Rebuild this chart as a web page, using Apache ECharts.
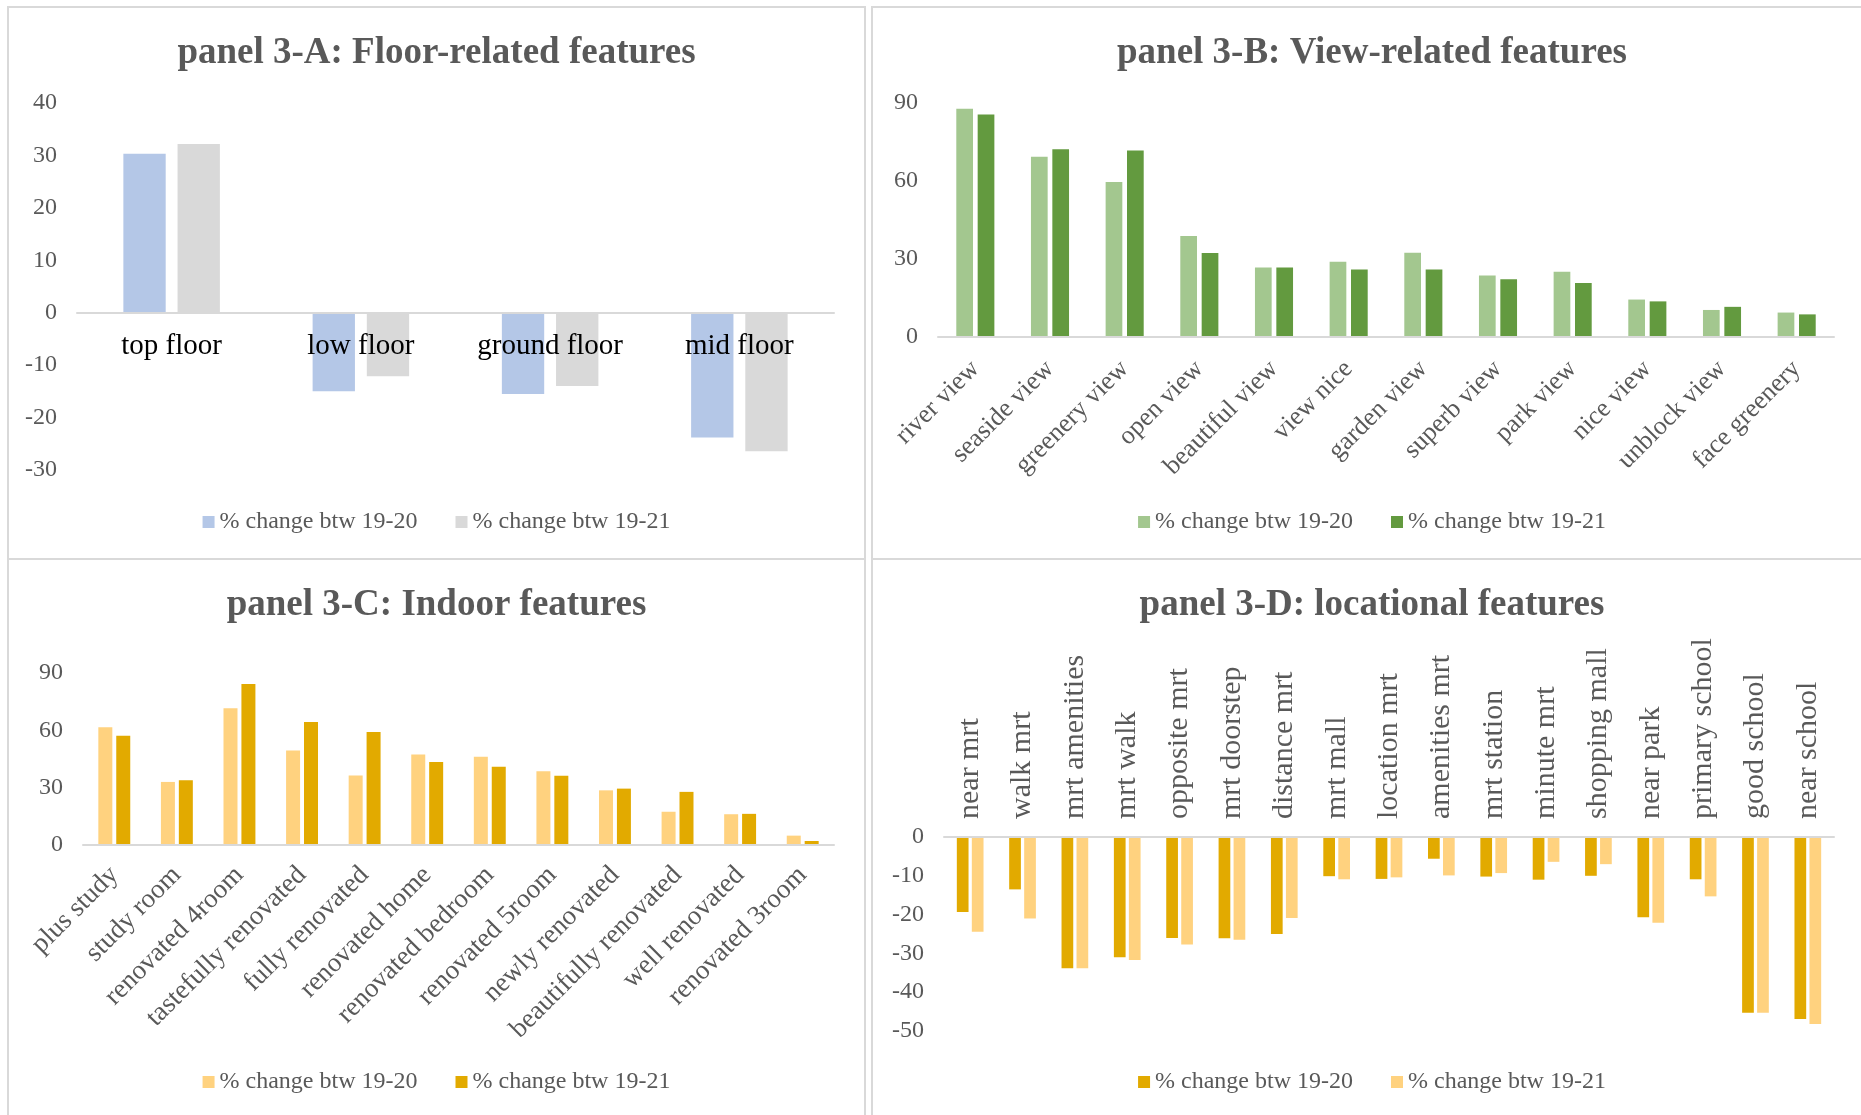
<!DOCTYPE html>
<html>
<head>
<meta charset="utf-8">
<title>panel 3</title>
<script src="https://cdn.jsdelivr.net/npm/echarts@6/dist/echarts.min.js"></script>
<style>
  body { margin: 0; background: #fff; width: 1861px; height: 1115px; overflow: hidden; position: relative; }
  .panel { position: absolute; box-sizing: border-box; border: 2px solid #d9d9d9; background: #fff; }
  .chart { width: 100%; height: 100%; }
</style>
</head>
<body>
<div class="panel" style="left:7px;top:6px;width:859px;height:554px;"><div class="chart" id="panelA"></div></div>
<div class="panel" style="left:871px;top:6px;width:1002px;height:554px;"><div class="chart" id="panelB"></div></div>
<div class="panel" style="left:7px;top:558px;width:859px;height:560px;"><div class="chart" id="panelC"></div></div>
<div class="panel" style="left:871px;top:558px;width:1002px;height:560px;"><div class="chart" id="panelD"></div></div>
<script>
var FONT = "'Liberation Serif', 'Times New Roman', serif";
var GREY = '#595959';
var seriesNames = ['% change btw 19-20', '% change btw 19-21'];

// panel 3-A
var floorCats = ['top floor', 'low floor', 'ground floor', 'mid floor'];
var floor1920 = [30.3, -15.0, -15.5, -23.8];
var floor1921 = [32.2, -12.1, -14.0, -26.4];

// panel 3-B
var viewCats = ['river view', 'seaside view', 'greenery view', 'open view', 'beautiful view', 'view nice',
  'garden view', 'superb view', 'park view', 'nice view', 'unblock view', 'face greenery'];
var view1920 = [87.8, 69.3, 59.6, 38.8, 26.7, 28.9, 32.4, 23.7, 25.1, 14.4, 10.4, 9.4];
var view1921 = [85.6, 72.2, 71.7, 32.3, 26.7, 26.0, 26.0, 22.2, 20.8, 13.7, 11.6, 8.7];

// panel 3-C
var indoorCats = ['plus study', 'study room', 'renovated 4room', 'tastefully renovated', 'fully renovated',
  'renovated home', 'renovated bedroom', 'renovated 5room', 'newly renovated', 'beautifully renovated',
  'well renovated', 'renovated 3room'];
var indoor1920 = [61.6, 33.0, 71.6, 49.4, 36.4, 47.3, 46.2, 38.6, 28.6, 17.4, 16.1, 4.9];
var indoor1921 = [57.2, 33.9, 84.3, 64.4, 59.1, 43.4, 40.9, 36.2, 29.5, 27.8, 16.3, 2.1];

// panel 3-D
var locCats = ['near mrt', 'walk mrt', 'mrt amenities', 'mrt walk', 'opposite mrt', 'mrt doorstep',
  'distance mrt', 'mrt mall', 'location mrt', 'amenities mrt', 'mrt station', 'minute mrt',
  'shopping mall', 'near park', 'primary school', 'good school', 'near school'];
var loc1920 = [-19.3, -13.5, -33.8, -31.0, -26.0, -26.1, -25.0, -10.1, -10.8, -5.6, -10.2, -11.0,
  -10.0, -20.7, -10.9, -45.3, -46.9];
var loc1921 = [-24.4, -21.0, -33.8, -31.7, -27.7, -26.5, -20.9, -10.9, -10.4, -9.9, -9.3, -6.4,
  -7.0, -22.1, -15.3, -45.3, -48.2];

function barChart(id, cfg) {
  var chart = echarts.init(document.getElementById(id));
  // bottom axis sits on the zero line when the value range crosses zero
  var xOffset = 0;
  if (cfg.xOnZero) {
    xOffset = -cfg.grid.height * (0 - cfg.min) / (cfg.max - cfg.min);
  }
  chart.setOption({
    animation: false,
    textStyle: { fontFamily: FONT },
    title: {
      text: cfg.title,
      left: 'center',
      top: 22,
      textStyle: { fontFamily: FONT, fontSize: 37, fontWeight: 'bold', color: GREY }
    },
    legend: {
      left: 'center',
      top: cfg.legendTop,
      icon: 'rect',
      itemWidth: 12,
      itemHeight: 12,
      itemGap: 38,
      textStyle: { fontFamily: FONT, fontSize: 24, color: GREY }
    },
    grid: cfg.grid,
    xAxis: {
      type: 'category',
      data: cfg.cats,
      position: cfg.xPos || 'bottom',
      offset: xOffset,
      z: 5,
      axisLine: { onZero: !cfg.xOnZero, lineStyle: { color: '#d9d9d9', width: 2 } },
      axisTick: { show: false },
      axisLabel: Object.assign({ fontFamily: FONT, color: GREY, interval: 0 }, cfg.xLabel)
    },
    yAxis: {
      type: 'value',
      min: cfg.min,
      max: cfg.max,
      interval: cfg.interval,
      splitLine: { show: false },
      axisLine: { show: false },
      axisTick: { show: false },
      axisLabel: { fontFamily: FONT, fontSize: 24, color: GREY, margin: 20 }
    },
    series: [{
      name: seriesNames[0],
      type: 'bar',
      data: cfg.data[0],
      itemStyle: { color: cfg.colors[0] },
      barGap: '28%',
      barCategoryGap: '49%'
    }, {
      name: seriesNames[1],
      type: 'bar',
      data: cfg.data[1],
      itemStyle: { color: cfg.colors[1] },
      barGap: '28%',
      barCategoryGap: '49%'
    }]
  });
  return chart;
}

barChart('panelA', {
  title: 'panel 3-A: Floor-related features',
  cats: floorCats,
  data: [floor1920, floor1921],
  colors: ['#b4c7e7', '#d9d9d9'],
  min: -30, max: 40, interval: 10,
  grid: { left: 68, top: 95, width: 757, height: 367 },
  xOnZero: true,
  xLabel: { fontSize: 29, color: '#000', margin: 19 },
  legendTop: 497
});

barChart('panelB', {
  title: 'panel 3-B: View-related features',
  cats: viewCats,
  data: [view1920, view1921],
  colors: ['#a3c78f', '#639a3f'],
  min: 0, max: 90, interval: 30,
  grid: { left: 65, top: 95, width: 896, height: 234 },
  xLabel: { fontSize: 26, rotate: 45, margin: 28 },
  legendTop: 497
});

barChart('panelC', {
  title: 'panel 3-C: Indoor features',
  cats: indoorCats,
  data: [indoor1920, indoor1921],
  colors: ['#ffd27f', '#e2aa00'],
  min: 0, max: 90, interval: 30,
  grid: { left: 74, top: 113, width: 751, height: 172 },
  xLabel: { fontSize: 27, rotate: 45, margin: 26 },
  legendTop: 505
});

barChart('panelD', {
  title: 'panel 3-D: locational features',
  cats: locCats,
  data: [loc1920, loc1921],
  colors: ['#e2aa00', '#ffd27f'],
  min: -50, max: 0, interval: 10,
  grid: { left: 71, top: 277, width: 890, height: 194 },
  xPos: 'top',
  xLabel: { fontSize: 30, rotate: 90, margin: 18 },
  legendTop: 505
});
</script>
</body>
</html>
